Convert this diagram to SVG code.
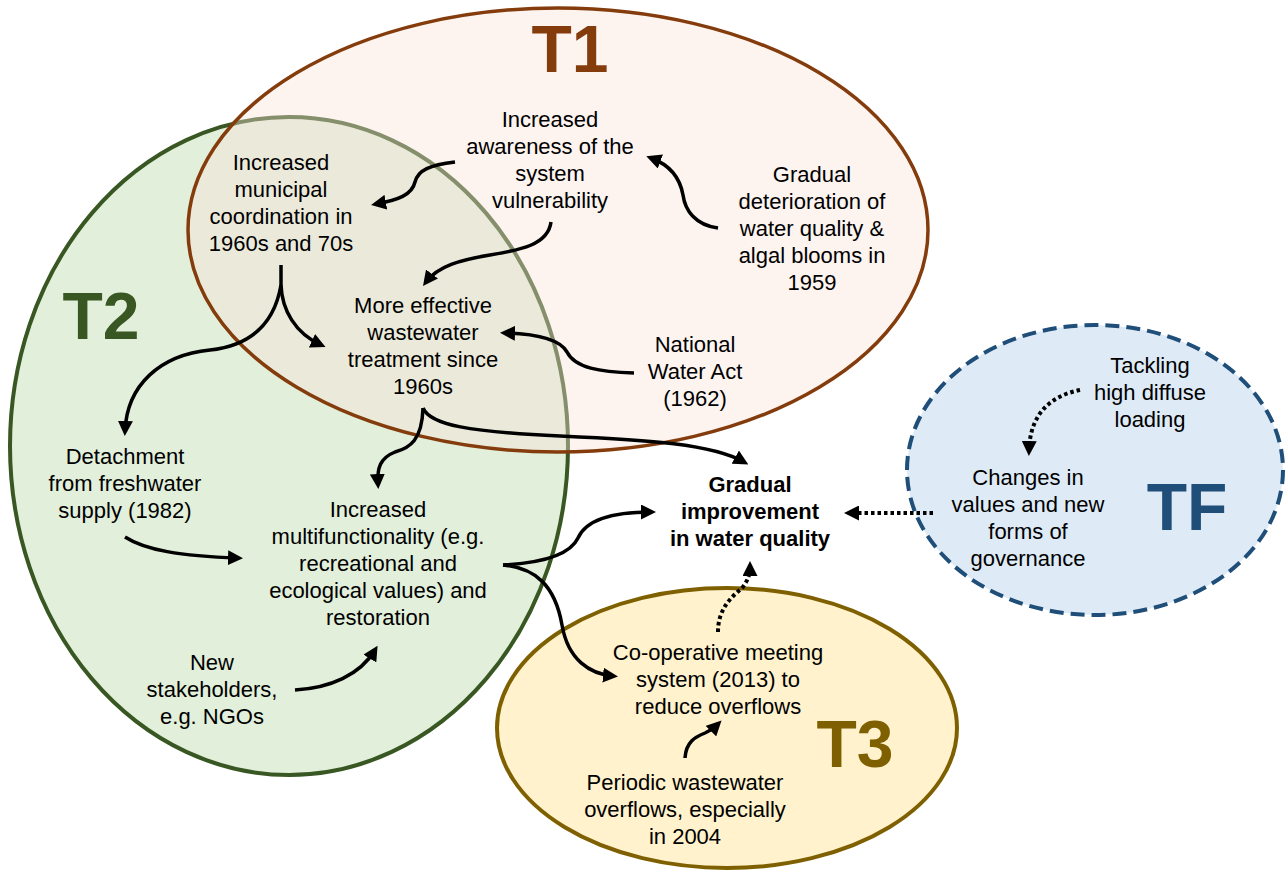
<svg xmlns="http://www.w3.org/2000/svg" width="1287" height="873" viewBox="0 0 1287 873">
<style>
.t{font-family:"Liberation Sans",Arial,sans-serif;font-size:22px;text-anchor:middle;fill:#000}
.b{font-weight:bold}
.lab{font-family:"Liberation Sans",Arial,sans-serif;font-size:66px;font-weight:bold;text-anchor:middle}
.c{fill:none;stroke:#000;stroke-width:3.5;marker-end:url(#ah)}
.d{fill:none;stroke:#000;stroke-width:4;stroke-dasharray:3.5 3;marker-end:url(#ah)}
</style>
<defs>
<marker id="ah" viewBox="0 0 15 15" refX="10" refY="7.5" markerWidth="15" markerHeight="15" orient="auto" markerUnits="userSpaceOnUse">
<path d="M0,0 L15,7.5 L0,15 z" fill="#000"/>
</marker>
</defs>
<rect width="1287" height="873" fill="#fff"/>
<g id="T2">
<ellipse cx="289" cy="446" rx="279" ry="329" fill="#E2EFDA" stroke="#385723" stroke-width="4"/>
<text class="lab" x="101" y="339" fill="#385723">T2</text>
</g>
<g id="T1">
<ellipse cx="558" cy="230" rx="370" ry="222" fill="#FAE3DA" fill-opacity="0.4" stroke="#843C0C" stroke-width="3.5"/>
<text class="lab" x="570" y="72" fill="#843C0C">T1</text>
</g>
<g id="T3">
<ellipse cx="727" cy="728" rx="230" ry="140" fill="#FFF2CC" stroke="#7F6000" stroke-width="4"/>
<text class="lab" x="855" y="767" fill="#7F6000">T3</text>
</g>
<g id="TF">
<ellipse cx="1095" cy="470" rx="188" ry="145" fill="#DEEBF7" stroke="#1F4E79" stroke-width="4" stroke-dasharray="14 7"/>
<text class="lab" x="1187" y="530" fill="#1F4E79">TF</text>
</g>
<g id="awareness">
<text class="t" x="550" y="127">Increased</text>
<text class="t" x="550" y="154">awareness of the</text>
<text class="t" x="550" y="181">system</text>
<text class="t" x="550" y="208">vulnerability</text>
</g>
<g id="municipal">
<text class="t" x="281" y="170">Increased</text>
<text class="t" x="281" y="197">municipal</text>
<text class="t" x="281" y="224">coordination in</text>
<text class="t" x="281" y="251">1960s and 70s</text>
</g>
<g id="effective">
<text class="t" x="423" y="313">More effective</text>
<text class="t" x="423" y="340">wastewater</text>
<text class="t" x="423" y="367">treatment since</text>
<text class="t" x="423" y="394">1960s</text>
</g>
<g id="deterioration">
<text class="t" x="812" y="182">Gradual</text>
<text class="t" x="812" y="209">deterioration of</text>
<text class="t" x="812" y="236">water quality &amp;</text>
<text class="t" x="812" y="263">algal blooms in</text>
<text class="t" x="812" y="290">1959</text>
</g>
<g id="wateract">
<text class="t" x="695" y="352">National</text>
<text class="t" x="695" y="379">Water Act</text>
<text class="t" x="695" y="406">(1962)</text>
</g>
<g id="detachment">
<text class="t" x="125" y="464">Detachment</text>
<text class="t" x="125" y="491">from freshwater</text>
<text class="t" x="125" y="518">supply (1982)</text>
</g>
<g id="multifunctionality">
<text class="t" x="378" y="517">Increased</text>
<text class="t" x="378" y="544">multifunctionality (e.g.</text>
<text class="t" x="378" y="571">recreational and</text>
<text class="t" x="378" y="598">ecological values) and</text>
<text class="t" x="378" y="625">restoration</text>
</g>
<g id="stakeholders">
<text class="t" x="212" y="670">New</text>
<text class="t" x="212" y="697">stakeholders,</text>
<text class="t" x="212" y="724">e.g. NGOs</text>
</g>
<g id="improvement">
<text class="t b" x="750" y="492">Gradual</text>
<text class="t b" x="750" y="519">improvement</text>
<text class="t b" x="750" y="546">in water quality</text>
</g>
<g id="cooperative">
<text class="t" x="718" y="660">Co-operative meeting</text>
<text class="t" x="718" y="687">system (2013) to</text>
<text class="t" x="718" y="714">reduce overflows</text>
</g>
<g id="overflows">
<text class="t" x="685" y="790">Periodic wastewater</text>
<text class="t" x="685" y="817">overflows, especially</text>
<text class="t" x="685" y="844">in 2004</text>
</g>
<g id="tackling">
<text class="t" x="1150" y="373">Tackling</text>
<text class="t" x="1150" y="400">high diffuse</text>
<text class="t" x="1150" y="427">loading</text>
</g>
<g id="changes">
<text class="t" x="1028" y="485">Changes in</text>
<text class="t" x="1028" y="512">values and new</text>
<text class="t" x="1028" y="539">forms of</text>
<text class="t" x="1028" y="566">governance</text>
</g>
<g id="connectors">
<path class="c" d="M455,162 C430,165 418,170 415,182 C412,195 398,200 376,204"/>
<path class="c" d="M551,222 C548,245 520,250 490,255 C460,260 438,266 426,282"/>
<path class="c" d="M718,228 C695,225 685,210 683,195 C680,178 670,165 651,158"/>
<path class="c" d="M281,265 L281,285 C282,310 295,333 321,345"/>
<path class="c" d="M281,285 C275,320 255,345 210,350 C160,355 127,385 125,431"/>
<path class="c" d="M634,373 C600,372 575,368 567,352 C560,340 540,334 505,333"/>
<path class="c" d="M423,408 C422,440 410,448 395,452 C380,458 377,468 378,484"/>
<path class="c" d="M423,408 C430,425 470,432 560,436 C650,440 712,444 744,462"/>
<path class="c" d="M125,537 C145,550 180,556 238,558"/>
<path class="c" d="M295,690 C330,688 360,675 375,650"/>
<path class="c" d="M503,565 C540,563 570,555 578,538 C586,520 610,512 651,512"/>
<path class="c" d="M503,565 C535,568 555,585 562,625 C568,660 590,674 613,676"/>
<path class="c" d="M685,758 C686,742 695,737 705,733 C712,730 715,727 718,724"/>
<path class="d" d="M718,632 C718,610 730,598 742,588 C748,580 750,575 750,566"/>
<path class="d" d="M1080,390 C1055,395 1030,410 1029,451"/>
<path class="d" d="M933,513 L849,513"/>
</g>
</svg>
